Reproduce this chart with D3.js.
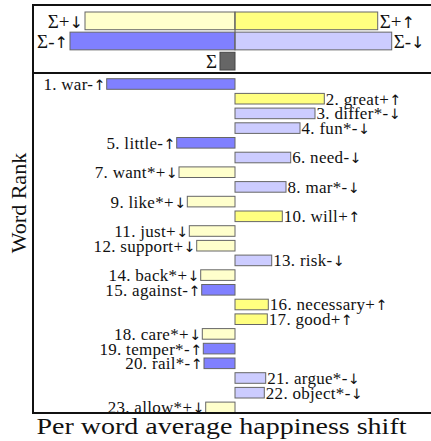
<!DOCTYPE html>
<html><head><meta charset="utf-8">
<script src="https://cdn.jsdelivr.net/npm/d3@7"></script>
<style>body{margin:0;background:#fff}svg{display:block}text{font-family:"Liberation Serif",serif;fill:#111}.ar{font-family:"DejaVu Sans",sans-serif;fill:#111}</style>
</head><body><svg id="c" width="431" height="441"></svg>
<script>
// ----- data -----
const words = ["war","great","differ","fun","little","need","want","mar","like","will","just","support","risk","back","against","necessary","good","care","temper","rail","argue","object","allow"];
const stars = [0,0,1,1,0,0,1,1,1,0,0,0,0,1,0,0,0,1,1,1,1,1,1];
const signs = ["-","+","-","-","-","-","+","-","+","+","+","+","-","+","-","+","+","+","-","-","-","-","+"];
const dirs  = ["↑","↑","↓","↓","↑","↓","↓","↓","↓","↑","↓","↓","↓","↓","↑","↑","↑","↓","↑","↑","↓","↓","↓"];
const values = [-12.83,8.93,8.0,6.5,-5.83,5.57,-5.6,5.1,-4.77,4.73,-4.57,-3.83,3.67,-3.43,-3.33,3.33,3.23,-3.27,-3.17,-3.1,3.07,2.93,-2.93];
const sumSigns = ["+","+","-","-"];
const sumDirs = ["↓","↑","↑","↓"];
const sumValues = [-15.0,14.27,-16.5,15.67];
const sumTotal = -1.5;
const xLabel = "Per word average happiness shift";
const yLabel = "Word Rank";

// ----- styling -----
const fills = {"-↑":"#8080ff","-↓":"#ccccff","+↑":"#ffff80","+↓":"#ffffcc"};
const svg = d3.select("#c");
const cx = 235;
const L = 33, R = 433, topY = 5, midY = 73, botY = 413;
const x = d3.scaleLinear().domain([-20.2, 19.8]).range([L, R]);

function addLabel(sel, pre, arrow){
  sel.append("tspan").text(pre);
  sel.append("tspan").attr("class","ar").attr("font-size","0.85em").text(arrow);
}

// top panel
const yTop = d3.scaleBand().domain([0,1,2]).range([12, 70]).paddingInner(0.12);
const sumRows = [0,0,1,1];
const topG = svg.append("g");
sumValues.forEach((v,i)=>{
  const kind = sumSigns[i]+sumDirs[i];
  topG.append("rect")
    .attr("x", x(Math.min(0,v))).attr("width", Math.abs(x(v)-x(0)))
    .attr("y", yTop(sumRows[i])).attr("height", yTop.bandwidth())
    .attr("fill", fills[kind]).attr("stroke","#666").attr("stroke-width",1);
  const t = topG.append("text")
    .attr("x", v<0 ? x(v)-2 : x(v)+2)
    .attr("y", yTop(sumRows[i]) + yTop.bandwidth()/2)
    .attr("dy","0.35em").attr("font-size",19)
    .attr("text-anchor", v<0 ? "end" : "start");
  addLabel(t, "Σ"+sumSigns[i], sumDirs[i]);
});
topG.append("rect")
  .attr("x", x(Math.min(0,sumTotal))).attr("width", Math.abs(x(sumTotal)-x(0)))
  .attr("y", yTop(2)).attr("height", yTop.bandwidth())
  .attr("fill","#666").attr("stroke","#444");
topG.append("text").attr("x", x(sumTotal)-3).attr("y", yTop(2)+yTop.bandwidth()/2)
  .attr("dy","0.35em").attr("font-size",19).attr("text-anchor","end").text("Σ");

// main panel
svg.append("defs").append("clipPath").attr("id","clipMain")
  .append("rect").attr("x",L).attr("y",midY).attr("width",R-L).attr("height",botY-midY);
const ranks = words.map((w,i)=>i+1);
const y = d3.scaleLinear().domain([1, 23]).range([84, 407.4]);
const bh = 10.6;
const mg = svg.append("g").attr("clip-path","url(#clipMain)");
mg.selectAll("rect.bar").data(values).join("rect").attr("class","bar")
  .attr("x", v=>x(Math.min(0,v))).attr("width", v=>Math.abs(x(v)-x(0)))
  .attr("y", (v,i)=>y(ranks[i]) - bh/2).attr("height", bh)
  .attr("fill", (v,i)=>fills[signs[i]+dirs[i]]).attr("stroke","#666").attr("stroke-width",1);
mg.selectAll("text.lab").data(values).join("text").attr("class","lab")
  .attr("x", v=> v<0 ? x(v)-1 : x(v)+1.5)
  .attr("y", (v,i)=>y(ranks[i]))
  .attr("dy","0.35em").attr("font-size",17).attr("letter-spacing",0.3)
  .attr("text-anchor", v=> v<0 ? "end":"start")
  .each(function(v,i){
    addLabel(d3.select(this), `${ranks[i]}. ${words[i]}${stars[i]?"*":""}${signs[i]}`, dirs[i]);
  });

// frame
svg.append("path").attr("fill","none").attr("stroke","#111").attr("stroke-width",2)
  .attr("d",`M${R},${topY}H${L}V${botY}H${R}M${L},${midY}H${R}`);
svg.append("line").attr("x1",cx).attr("x2",cx).attr("y1",yTop(0)).attr("y2",yTop(1)+yTop.bandwidth())
  .attr("stroke","#666").attr("stroke-width",1);

// axis labels
svg.append("text").attr("x",221.5).attr("y",434).attr("text-anchor","middle").attr("font-size",23.5)
  .attr("textLength",370).attr("lengthAdjust","spacingAndGlyphs").text(xLabel);
svg.append("text").attr("transform","translate(26,203) rotate(-90)").attr("text-anchor","middle").attr("font-size",22)
  .text(yLabel);
</script></body></html>
